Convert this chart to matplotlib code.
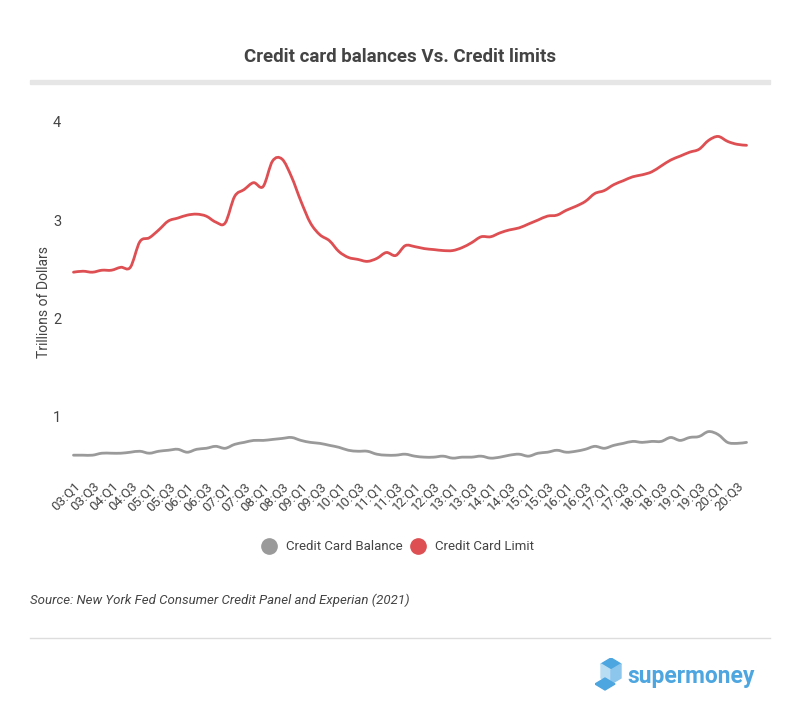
import matplotlib
matplotlib.use('Agg')
import matplotlib.pyplot as plt
from matplotlib.patches import Polygon, Rectangle, PathPatch
from matplotlib.path import Path
from matplotlib.lines import Line2D

plt.rcParams.update({
    'font.family': ['Roboto', 'DejaVu Sans'],
    'font.size': 10,
})

TEXT = '#444444'
BAL_COLOR = '#9A9A9A'
LIM_COLOR = '#DD4F52'
LOGO_BLUE = '#4DA6E0'

# quarters 03:Q1 .. 20:Q4
quarters = [f'{y:02d}:Q{q}' for y in range(3, 21) for q in range(1, 5)]

credit_limit = [
    2.47, 2.48, 2.47, 2.49, 2.49, 2.52, 2.52, 2.78, 2.82, 2.90, 2.99, 3.02,
    3.05, 3.06, 3.04, 2.98, 2.97, 3.24, 3.31, 3.38, 3.34, 3.60, 3.62, 3.44,
    3.19, 2.97, 2.85, 2.79, 2.68, 2.62, 2.60, 2.58, 2.61, 2.67, 2.64, 2.74,
    2.73, 2.71, 2.70, 2.69, 2.69, 2.72, 2.77, 2.83, 2.83, 2.87, 2.90, 2.92,
    2.96, 3.00, 3.04, 3.05, 3.10, 3.14, 3.19, 3.27, 3.30, 3.36, 3.40, 3.44,
    3.46, 3.49, 3.55, 3.61, 3.65, 3.69, 3.72, 3.81, 3.85, 3.80, 3.77, 3.76,
]

credit_balance = [
    0.61, 0.61, 0.61, 0.63, 0.63, 0.63, 0.64, 0.65, 0.63, 0.65, 0.66, 0.67,
    0.64, 0.67, 0.68, 0.70, 0.68, 0.72, 0.74, 0.76, 0.76, 0.77, 0.78, 0.79,
    0.76, 0.74, 0.73, 0.71, 0.69, 0.66, 0.65, 0.65, 0.62, 0.61, 0.61, 0.62,
    0.60, 0.59, 0.59, 0.60, 0.58, 0.59, 0.59, 0.60, 0.58, 0.59, 0.61, 0.62,
    0.60, 0.63, 0.64, 0.66, 0.64, 0.65, 0.67, 0.70, 0.68, 0.71, 0.73, 0.75,
    0.74, 0.75, 0.75, 0.79, 0.76, 0.79, 0.80, 0.85, 0.82, 0.74, 0.73, 0.74,
]

W, H = 800, 709
fig = plt.figure(figsize=(W / 100, H / 100), dpi=100)


def px(x0, y0, x1, y1):
    # pixel box (top-left origin) -> figure fraction rect
    return [x0 / W, 1 - y1 / H, (x1 - x0) / W, (y1 - y0) / H]


def smooth_path(xs, ys, t=0.5):
    # curve through every point (catmull-rom as cubic beziers)
    verts = [(xs[0], ys[0])]
    codes = [Path.MOVETO]
    n = len(xs)
    for i in range(n - 1):
        x0, y0 = (xs[i - 1], ys[i - 1]) if i > 0 else (xs[i], ys[i])
        x1, y1 = xs[i], ys[i]
        x2, y2 = xs[i + 1], ys[i + 1]
        x3, y3 = (xs[i + 2], ys[i + 2]) if i + 2 < n else (x2, y2)
        c1 = (x1 + (x2 - x0) * t / 3, y1 + (y2 - y0) * t / 3)
        c2 = (x2 - (x3 - x1) * t / 3, y2 - (y3 - y1) * t / 3)
        verts += [c1, c2, (x2, y2)]
        codes += [Path.CURVE4] * 3
    return Path(verts, codes)


ax = fig.add_axes(px(64, 102, 756, 466))
x = list(range(len(quarters)))
for series, col in [(credit_balance, BAL_COLOR), (credit_limit, LIM_COLOR)]:
    ax.add_patch(PathPatch(smooth_path(x, series), fill=False, edgecolor=col,
                           lw=2, joinstyle='round', capstyle='round'))

ax.set_xlim(-1, 72)
ax.set_ylim(0.5, 4.2)
ax.set_yticks([1, 2, 3, 4])
ax.set_xticks(x[::2])
ax.set_xticklabels(quarters[::2], rotation=45, ha='right', va='top',
                   rotation_mode='anchor', fontsize=9.5, color=TEXT)
ax.tick_params(axis='y', length=0, labelsize=10.5, labelcolor=TEXT, pad=2)
ax.tick_params(axis='x', length=0, pad=10)
for s in ax.spines.values():
    s.set_visible(False)
ax.set_ylabel('Trillions of Dollars', fontsize=10, color=TEXT)
ax.yaxis.set_label_coords(-0.019, 0.45)

# title and band
fig.text(0.5, 1 - 57 / H, 'Credit card balances Vs. Credit limits', ha='center',
         va='center', fontsize=13.5, fontweight='bold', color=TEXT)
fig.patches.append(Rectangle((30 / W, 1 - 84 / H), 740 / W, 4 / H,
                             transform=fig.transFigure, color='#E6E6E6'))

# legend
handles = [Line2D([], [], ls='none', marker='o', ms=11, color=BAL_COLOR),
           Line2D([], [], ls='none', marker='o', ms=11, color=LIM_COLOR)]
fig.legend(handles, ['Credit Card Balance', 'Credit Card Limit'], loc='center',
           bbox_to_anchor=(0.497, 1 - 547 / H), ncol=2, frameon=False,
           fontsize=9.5, labelcolor=TEXT, handletextpad=0.7, columnspacing=0.5,
           handlelength=1.2)

fig.text(30 / W, 1 - 600 / H, 'Source: New York Fed Consumer Credit Panel and Experian (2021)',
         ha='left', va='center', fontsize=9.5, style='italic', color=TEXT)

fig.add_artist(Line2D([30 / W, 770 / W], [1 - 638 / H, 1 - 638 / H],
                      transform=fig.transFigure, color='#DDDDDD', lw=1))

# supermoney logo
lax = fig.add_axes(px(595, 658, 630, 692))
lax.set_xlim(0, 35)
lax.set_ylim(34, 0)
lax.axis('off')
lax.add_patch(Polygon([(16, 0), (26, 6), (16, 12), (6, 6)], color=LOGO_BLUE))
lax.add_patch(Polygon([(6, 6), (16, 12), (16, 26), (6, 20)], color='#B9DDF3'))
lax.add_patch(Polygon([(16, 12), (26, 6), (26, 20), (16, 26)], color='#8CC6EC'))
lax.add_patch(Polygon([(10, 20), (20, 26), (10, 32), (0, 26)], color=LOGO_BLUE))
fig.text(627 / W, 1 - 676 / H, 'supermoney', ha='left', va='center',
         fontsize=16.5, fontweight='bold', color=LOGO_BLUE)

fig.savefig('out.png', dpi=100, facecolor='white')
